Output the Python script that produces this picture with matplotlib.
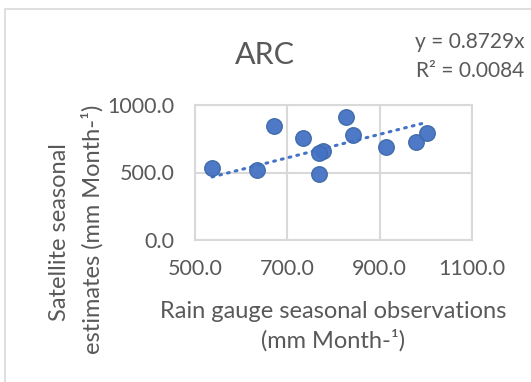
import numpy as np
import matplotlib
matplotlib.use("Agg")
import matplotlib.pyplot as plt
from matplotlib.patches import Rectangle

# данные
gauge = [537, 634, 671, 733, 826, 843, 778, 768, 768, 914, 978, 1002]
satellite = [531, 519, 847, 753, 909, 778, 659, 642, 487, 691, 723, 795]
x_ticks = [500, 700, 900, 1100]
y_ticks = [0, 500, 1000]
title = "ARC"
eq_text = "y = 0.8729x"
r2_text = "R² = 0.0084"

plt.rcParams['font.family'] = ['Lato', 'DejaVu Sans']
TXT = "#595959"
GRID = "#D9D9D9"
BLUE = "#4472C4"

fig = plt.figure(figsize=(5.31, 3.82), dpi=100)
W, H = 531, 382
ax = fig.add_axes([195 / W, 1 - 240 / H, 277 / W, 135 / H])

# точки
ax.scatter(gauge, satellite, s=125, color=BLUE, edgecolor="#3F6AA8",
           linewidth=1.0, alpha=0.95, zorder=3, clip_on=False)

# линия тренда через начало координат (как в Excel, y = kx)
gx = np.array(gauge, dtype=float)
gy = np.array(satellite, dtype=float)
k = (gx * gy).sum() / (gx * gx).sum()
xs = np.array([gx.min(), gx.max()])
ax.plot(xs, k * xs, linestyle=(0, (0.6, 2.0)), dash_capstyle="round",
        color=BLUE, linewidth=2.2, zorder=2)

ax.set_xlim(500, 1100)
ax.set_ylim(0, 1000)
ax.set_xticks(x_ticks)
ax.set_yticks(y_ticks)
ax.set_xticklabels([f"{v:.1f}" for v in x_ticks])
ax.set_yticklabels([f"{v:.1f}" for v in y_ticks])
ax.tick_params(length=0, labelsize=15.5, colors=TXT)
ax.tick_params(axis="y", pad=15)
ax.tick_params(axis="x", pad=14)
ax.grid(True, color=GRID, linewidth=1.5)
ax.set_axisbelow(True)
for s in ax.spines.values():
    s.set_color(GRID)
    s.set_linewidth(1.5)

# подписи
fig.text(265 / W, 1 - 55 / H, title, ha="center", va="center", fontsize=22, color=TXT)
fig.text(415 / W, 1 - 42 / H, eq_text, ha="left", va="center", fontsize=15, color=TXT)
fig.text(416 / W, 1 - 71 / H, r2_text, ha="left", va="center", fontsize=15, color=TXT)
fig.text(333 / W, 1 - 312 / H, "Rain gauge seasonal observations", ha="center",
         va="center", fontsize=17, color=TXT)
fig.text(333 / W, 1 - 340 / H, "(mm Month-¹)", ha="center", va="center",
         fontsize=17, color=TXT)
fig.text(60 / W, 1 - 232 / H, "Satellite seasonal", ha="center", va="center",
         rotation=90, fontsize=17, color=TXT)
fig.text(92 / W, 1 - 229 / H, "estimates (mm Month-¹)", ha="center", va="center",
         rotation=90, fontsize=17, color=TXT)

# рамка диаграммы
fig.patches.append(Rectangle((5 / W, -0.1), 1.2, 1 - 9 / H + 0.1,
                             transform=fig.transFigure, fill=False,
                             edgecolor=GRID, linewidth=1.2))

fig.savefig("out.png", dpi=100)
